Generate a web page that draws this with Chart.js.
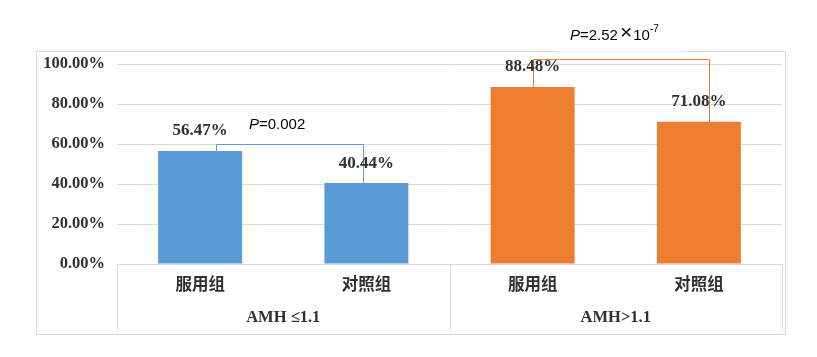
<!DOCTYPE html>
<html><head><meta charset="utf-8">
<script src="https://cdn.jsdelivr.net/npm/chart.js@4/dist/chart.umd.min.js"></script>
<style>html,body{margin:0;padding:0;background:#fff}#wrap{width:817px;height:357px}</style>
</head><body><div id="wrap"><canvas id="c" width="817" height="357"></canvas></div>
<script>
const categories = ['服用组','对照组','服用组','对照组'];
const groupLabels = ['AMH ≤1.1','AMH>1.1'];
const groupSpans = [[0,1],[2,3]];
const rates = [56.47, 40.44, 88.48, 71.08];
const barColors = ['#5B9BD5','#5B9BD5','#ED7D31','#ED7D31'];
const yTickValues = [0,20,40,60,80,100];
const comparisons = [[0,1],[2,3]];
const bracketLevels = [60, 102.6];
const pValues = ['0.002', '2.52'];
const pExponents = [null, '-7'];

const SERIF = '"Liberation Serif","Times New Roman",serif';
const SANS = '"Liberation Sans",Arial,sans-serif';
const CJK = '"Noto Sans CJK SC",sans-serif';
const TXT = '#303030';
const GRID = '#d9d9d9';

const framePlugin = {
  id:'frame',
  beforeDraw(chart){
    const ctx = chart.ctx;
    ctx.save();
    ctx.fillStyle='#fff';
    ctx.fillRect(0,0,chart.width,chart.height);
    ctx.strokeStyle=GRID; ctx.lineWidth=1;
    ctx.strokeRect(36.5,51.5,749,283);
    ctx.restore();
  }
};

const annotPlugin = {
  id:'annot',
  afterDraw(chart, args, opts){
    const ctx = chart.ctx;
    const xs = chart.scales.x, ys = chart.scales.y;
    const meta = chart.getDatasetMeta(0);
    const ca = chart.chartArea;
    ctx.save();
    const step = xs.getPixelForValue(1) - xs.getPixelForValue(0);
    ctx.strokeStyle = GRID; ctx.lineWidth = 1;
    const bounds = [xs.getPixelForValue(0)-step/2];
    groupSpans.forEach(s=>bounds.push(xs.getPixelForValue(s[1])+step/2));
    bounds.forEach(b=>{
      const x = Math.round(b)+0.5;
      ctx.beginPath(); ctx.moveTo(x, ca.bottom); ctx.lineTo(x, ca.bottom+66); ctx.stroke();
    });
    ctx.fillStyle = TXT;
    ctx.font = 'bold 16.5px '+SERIF;
    ctx.textAlign='center'; ctx.textBaseline='middle';
    groupSpans.forEach((s,i)=>{
      const cx = (xs.getPixelForValue(s[0])+xs.getPixelForValue(s[1]))/2;
      ctx.fillText(groupLabels[i], cx, ca.bottom+54);
    });
    comparisons.forEach((pair,k)=>{
      const [a,b] = pair;
      const ba = meta.data[a], bb = meta.data[b];
      const shifts = opts.legShifts[k];
      const xa = Math.round(ba.x + shifts[0]*ba.width)+0.5;
      const xb = Math.round(bb.x + shifts[1]*bb.width)+0.5;
      const yl = Math.round(ys.getPixelForValue(bracketLevels[k]))+0.5;
      const mid = (xa+xb)/2;
      const ty = yl - opts.textGap[k];
      const bw = opts.boxWidth[k];
      ctx.fillStyle='#fff';
      ctx.fillRect(mid-bw/2, ty-18, bw, 34);
      ctx.strokeStyle = barColors[a]; ctx.lineWidth=1;
      ctx.beginPath();
      ctx.moveTo(xa, ys.getPixelForValue(rates[a]));
      ctx.lineTo(xa, yl); ctx.lineTo(xb, yl);
      ctx.lineTo(xb, ys.getPixelForValue(rates[b]));
      ctx.stroke();
      let tx = mid - bw/2 + 14;
      ctx.fillStyle='#000'; ctx.textAlign='left'; ctx.textBaseline='middle';
      ctx.font = 'italic 15px '+SANS;
      ctx.fillText('P', tx, ty); tx += ctx.measureText('P').width;
      ctx.font = '15px '+SANS;
      ctx.fillText('='+pValues[k], tx, ty); tx += ctx.measureText('='+pValues[k]).width;
      if (pExponents[k]) {
        tx += 2;
        ctx.font = '21px '+SANS;
        ctx.fillText('×', tx, ty-2); tx += ctx.measureText('×').width + 1;
        ctx.font = '15px '+SANS;
        ctx.fillText('10', tx, ty); tx += ctx.measureText('10').width;
        ctx.font = '10px '+SANS;
        ctx.fillText(pExponents[k], tx, ty-6);
      }
    });
    ctx.fillStyle = TXT; ctx.textAlign='center'; ctx.textBaseline='middle';
    ctx.font = 'bold 17px '+SERIF;
    meta.data.forEach((bar,i)=>{
      ctx.fillText(rates[i].toFixed(2)+'%', bar.x, bar.y-20);
    });
    ctx.restore();
  }
};

new Chart(document.getElementById('c'), {
  type:'bar',
  data:{ labels:categories, datasets:[{ data:rates, backgroundColor:barColors, borderWidth:0,
    barPercentage:0.505, categoryPercentage:1 }]},
  options:{
    responsive:false, animation:false, devicePixelRatio:1,
    layout:{ padding:{ left:0, right:35, top:64, bottom:0 } },
    plugins:{ legend:{display:false}, tooltip:{enabled:false},
      annot:{ legShifts:[[0.19,-0.04],[0,0.12]], textGap:[20,24], boxWidth:[110,131] } },
    scales:{
      x:{ grid:{ display:false, drawTicks:false },
          border:{ display:true, color:GRID, width:1 },
          ticks:{ color:TXT, font:{ family:CJK, size:16.5, weight:'bold' }, padding:10 },
          afterFit(s){ s.height = 93; } },
      y:{ min:0, max:100,
          afterBuildTicks(s){ s.ticks = yTickValues.map(v=>({value:v})); },
          grid:{ color:GRID, drawTicks:false },
          border:{ display:false },
          ticks:{ color:TXT, font:{ family:SERIF, size:16.5, weight:'bold' }, padding:12,
            callback:v=>v.toFixed(2)+'%' },
          afterFit(s){ s.width = 117; } }
    }
  },
  plugins:[framePlugin, annotPlugin]
});
</script></body></html>
